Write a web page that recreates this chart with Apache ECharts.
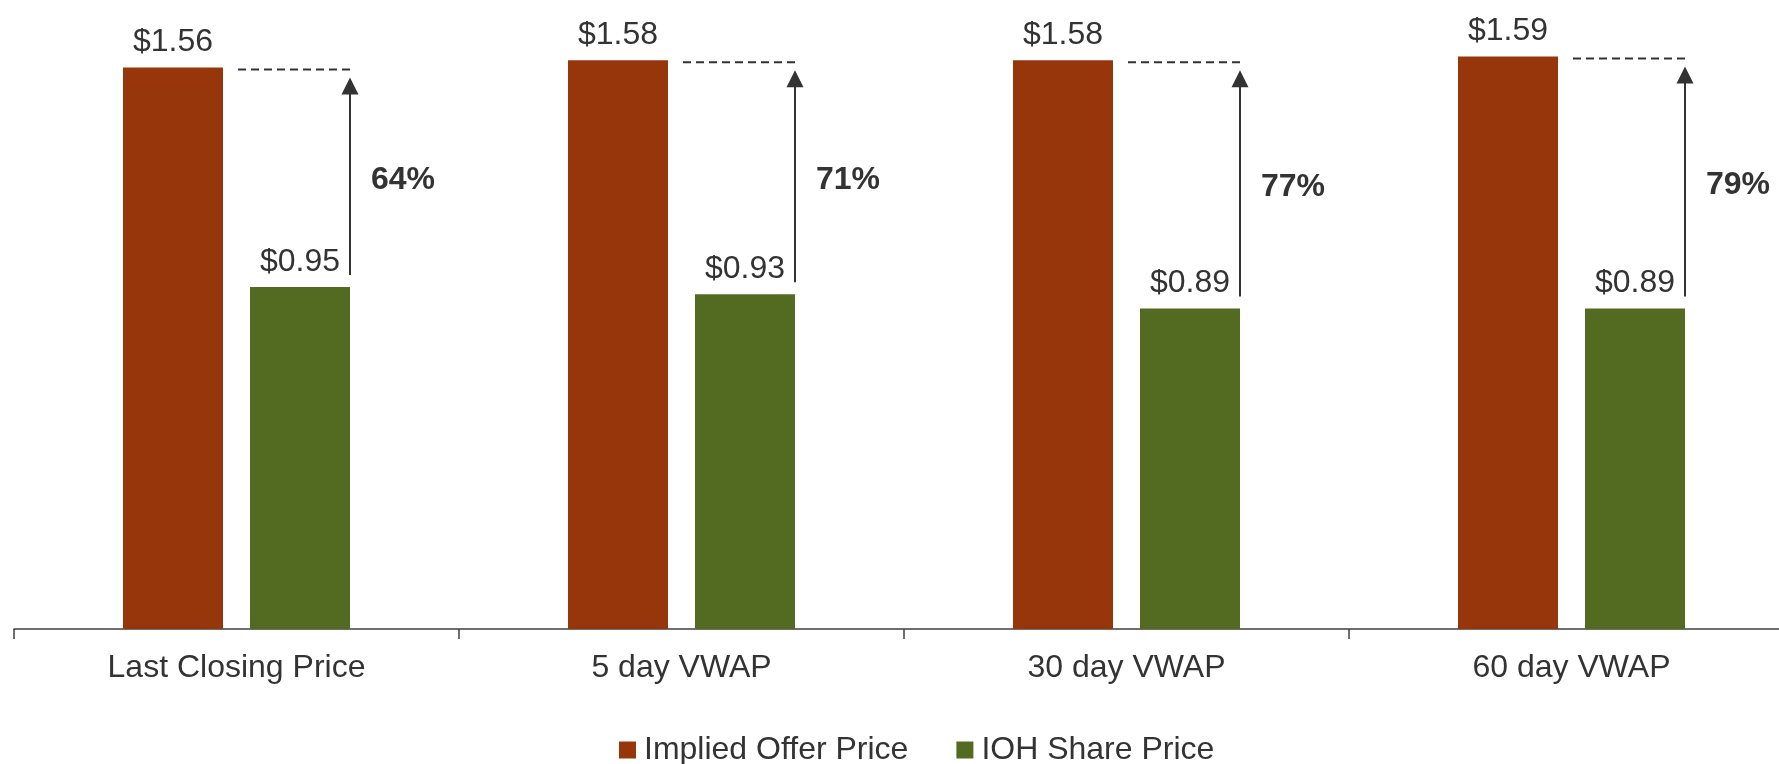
<!DOCTYPE html>
<html>
<head>
<meta charset="utf-8">
<script src="https://cdn.jsdelivr.net/npm/echarts@6/dist/echarts.min.js"></script>
<style>
  html, body { margin: 0; padding: 0; background: #ffffff; }
  #chart { width: 1779px; height: 764px; }
</style>
</head>
<body>
<div id="chart"></div>
<script>
// ---- Data ----
var categories = ['Last Closing Price', '5 day VWAP', '30 day VWAP', '60 day VWAP'];
var impliedOfferPrice = [1.56, 1.58, 1.58, 1.59];
var iohSharePrice = [0.95, 0.93, 0.89, 0.89];
var premiumPct = [64, 71, 77, 79];
var seriesNames = ['Implied Offer Price', 'IOH Share Price'];

// ---- Style constants ----
var RED = '#97360b';
var GREEN = '#536a21';
var TEXT = '#333333';
var FONT = '"Liberation Sans", Arial, sans-serif';
var BAR_W = 100;
var BAR_GAP_PX = 27;

var annotData = categories.map(function (c, i) {
  return [i, impliedOfferPrice[i], iohSharePrice[i], premiumPct[i]];
});

var chart = echarts.init(document.getElementById('chart'), null, { renderer: 'canvas' });

var option = {
  backgroundColor: '#ffffff',
  animation: false,
  textStyle: { fontFamily: FONT },
  grid: { left: 14, width: 1780, top: 17, bottom: 135, containLabel: false, outerBoundsMode: 'none' },
  legend: {
    data: seriesNames,
    left: 614,
    top: 729,
    icon: 'rect',
    itemWidth: 17,
    itemHeight: 17,
    itemGap: 48,
    textStyle: { fontSize: 32, color: TEXT, fontFamily: FONT, padding: [0, 0, 0, 3] }
  },
  xAxis: {
    type: 'category',
    data: categories,
    axisLine: { lineStyle: { color: '#404040', width: 1.5 } },
    axisTick: { show: true, length: 10, lineStyle: { color: '#404040', width: 1.5 } },
    axisLabel: { fontSize: 32, color: TEXT, fontFamily: FONT, margin: 23 },
    splitLine: { show: false }
  },
  yAxis: {
    type: 'value',
    min: 0,
    max: 1.7,
    show: false,
    splitLine: { show: false }
  },
  series: [
    {
      name: seriesNames[0],
      type: 'bar',
      data: impliedOfferPrice,
      barWidth: BAR_W,
      barGap: '27%',
      itemStyle: { color: RED },
      label: {
        show: true, position: 'top', distance: 9,
        fontSize: 32, color: TEXT, fontFamily: FONT,
        formatter: function (p) { return '$' + p.value.toFixed(2); }
      }
    },
    {
      name: seriesNames[1],
      type: 'bar',
      data: iohSharePrice,
      barWidth: BAR_W,
      barGap: '27%',
      itemStyle: { color: GREEN },
      label: {
        show: true, position: 'top', distance: 9,
        fontSize: 32, color: TEXT, fontFamily: FONT,
        formatter: function (p) { return '$' + p.value.toFixed(2); }
      }
    },
    {
      name: 'premium',
      type: 'custom',
      silent: true,
      z: 5,
      encode: { x: 0, y: [1, 2] },
      data: annotData,
      renderItem: function (params, api) {
        var i = api.value(0);
        var redTop = api.coord([i, api.value(1)]);
        var greenTop = api.coord([i, api.value(2)]);
        var cx = redTop[0];
        var redRight = cx - BAR_GAP_PX / 2;
        var greenRight = cx + BAR_GAP_PX / 2 + BAR_W;
        var dashY = redTop[1] + 2;
        var tipY = redTop[1] + 10;
        var headBase = tipY + 17;
        var shaftBottom = greenTop[1] - 12;
        return {
          type: 'group',
          children: [
            {
              type: 'line',
              shape: { x1: redRight + 15, y1: dashY, x2: greenRight, y2: dashY },
              style: { stroke: '#333333', lineWidth: 2, lineDash: [8, 5] }
            },
            {
              type: 'line',
              shape: { x1: greenRight, y1: headBase - 1, x2: greenRight, y2: shaftBottom },
              style: { stroke: '#333333', lineWidth: 2 }
            },
            {
              type: 'polygon',
              shape: { points: [[greenRight, tipY], [greenRight - 8.5, headBase], [greenRight + 8.5, headBase]] },
              style: { fill: '#333333' }
            },
            {
              type: 'text',
              style: {
                x: greenRight + 21,
                y: (tipY + shaftBottom) / 2 + 4,
                text: api.value(3) + '%',
                font: 'bold 32px ' + FONT,
                fill: TEXT,
                textAlign: 'left',
                textVerticalAlign: 'middle',
                verticalAlign: 'middle'
              }
            }
          ]
        };
      }
    }
  ]
};

chart.setOption(option);
</script>
</body>
</html>
